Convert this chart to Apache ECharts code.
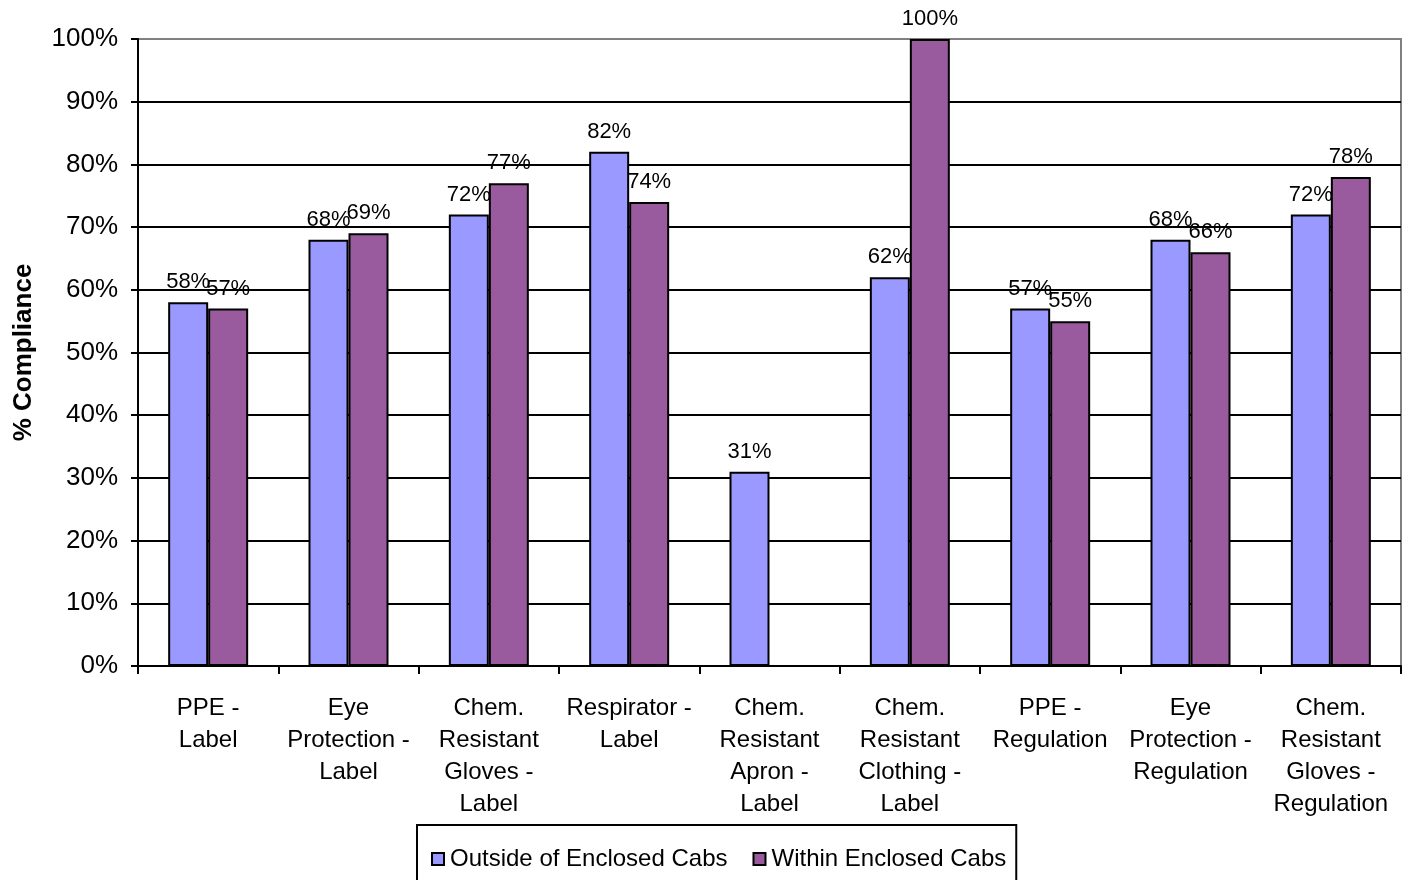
<!DOCTYPE html>
<html>
<head>
<meta charset="utf-8">
<script src="https://cdn.jsdelivr.net/npm/echarts@6/dist/echarts.min.js"></script>
<style>html,body{margin:0;padding:0;background:#fff}#c{width:1409px;height:880px}</style>
</head>
<body>
<div id="c"></div>
<script>
const categories = [
  "PPE -\nLabel",
  "Eye\nProtection -\nLabel",
  "Chem.\nResistant\nGloves -\nLabel",
  "Respirator -\nLabel",
  "Chem.\nResistant\nApron -\nLabel",
  "Chem.\nResistant\nClothing -\nLabel",
  "PPE -\nRegulation",
  "Eye\nProtection -\nRegulation",
  "Chem.\nResistant\nGloves -\nRegulation"
];
const outsideValues = [58, 68, 72, 82, 31, 62, 57, 68, 72];
const withinValues = [57, 69, 77, 74, null, 100, 55, 66, 78];
const seriesNames = ["Outside of Enclosed Cabs", "Within Enclosed Cabs"];
const yAxisTitle = "% Compliance";

const FONT = "Liberation Sans, Arial, sans-serif";
const chart = echarts.init(document.getElementById('c'));
const labelCfg = {
  show: true, position: 'top', distance: 9,
  fontFamily: FONT, fontSize: 22, color: '#000',
  formatter: p => p.value + '%'
};
chart.setOption({
  animation: false,
  textStyle: { fontFamily: FONT },
  grid: { left: 138, right: 8, top: 39, bottom: 214, show: true, borderColor: '#808080', borderWidth: 2, backgroundColor: 'transparent' },
  legend: {
    left: 417, top: 825,
    data: seriesNames,
    icon: 'rect', itemWidth: 12, itemHeight: 12, itemGap: 25,
    padding: [22, 10, 16, 14],
    borderColor: '#000', borderWidth: 2,
    textStyle: { fontFamily: FONT, fontSize: 24, color: '#000', padding: [0, 0, 0, 1] }
  },
  xAxis: {
    type: 'category', data: categories,
    axisLine: { lineStyle: { color: '#000', width: 2 } },
    axisTick: { show: true, interval: 0, length: 8, lineStyle: { color: '#000', width: 2 } },
    axisLabel: { interval: 0, margin: 26, fontFamily: FONT, fontSize: 24, lineHeight: 32, color: '#000', verticalAlign: 'top' }
  },
  yAxis: {
    type: 'value', min: 0, max: 100, interval: 10,
    name: yAxisTitle, nameLocation: 'middle', nameGap: 101,
    nameTextStyle: { fontFamily: FONT, fontSize: 26, fontWeight: 'bold', color: '#000' },
    axisLine: { show: true, lineStyle: { color: '#000', width: 2 } },
    axisTick: { show: true, length: 7, lineStyle: { color: '#000', width: 2 } },
    axisLabel: { formatter: '{value}%', margin: 20, fontFamily: FONT, fontSize: 26, color: '#000' },
    splitLine: { show: true, showMaxLine: false, lineStyle: { color: '#000', width: 2 } }
  },
  series: [
    {
      name: seriesNames[0], type: 'bar', data: outsideValues,
      barWidth: 40, barGap: '0%',
      itemStyle: { color: '#9999FF', borderColor: '#000', borderWidth: 2 },
      label: labelCfg
    },
    {
      name: seriesNames[1], type: 'bar', data: withinValues,
      barWidth: 40,
      itemStyle: { color: '#995A9E', borderColor: '#000', borderWidth: 2 },
      label: labelCfg
    }
  ]
});
</script>
</body>
</html>
